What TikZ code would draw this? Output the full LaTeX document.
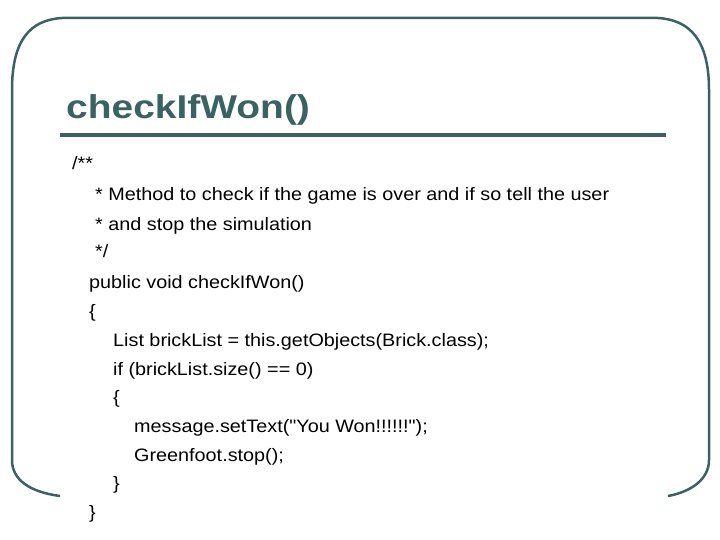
\documentclass[tikz,border=0pt]{standalone}
\usepackage{fontspec}
\setmainfont{Liberation Sans}
\newfontfamily\codefont[FakeStretch=1.1]{Liberation Sans}
\newfontfamily\titlefont[FakeStretch=1.18]{Liberation Sans}
\definecolor{teal1}{HTML}{3A6262}
\begin{document}
\begin{tikzpicture}[x=1pt,y=-1pt,
  code/.style={anchor=base west,inner sep=0pt,font=\codefont\fontsize{18}{18}\selectfont},
  frame/.style={draw=teal1,line width=2.5pt}]
\useasboundingbox (0,0) rectangle (720,540);
\draw[frame] (12,460) -- (12,90) .. controls (12,40) and (30,20) .. (62,18) -- (658,18) .. controls (690,20) and (709,40) .. (709,90) -- (709,460) .. controls (709,480) and (690,492) .. (668,496);
\draw[frame] (12,460) .. controls (12,480) and (30,492) .. (60,496);
\node[anchor=base west,inner sep=0pt,text=teal1,font=\titlefont\fontsize{33}{33}\selectfont\bfseries] (title) at (66,119) {checkIfWon()};
\draw[draw=teal1,line width=3.5pt] (60,135) -- (666,135);
\node[code] (l1) at (72,170) {/**};
\node[code] (l2) at (95,201) {* Method to check if the game is over and if so tell the user};
\node[code] (l3) at (95,230) {* and stop the simulation};
\node[code] (l4) at (95,258) {*/};
\node[code] (l5) at (89,288) {public void checkIfWon()};
\node[code] (l6) at (89,317) {\{};
\node[code] (l7) at (113,346) {List brickList = this.getObjects(Brick.class);};
\node[code] (l8) at (113,375) {if (brickList.size() == 0)};
\node[code] (l9) at (113,403) {\{};
\node[code] (l10) at (134,432) {message.setText(\symbol{34}You Won!!!!!!\symbol{34});};
\node[code] (l11) at (134,461) {Greenfoot.stop();};
\node[code] (l12) at (113,489) {\}};
\node[code] (l13) at (89,518) {\}};
\end{tikzpicture}
\end{document}
